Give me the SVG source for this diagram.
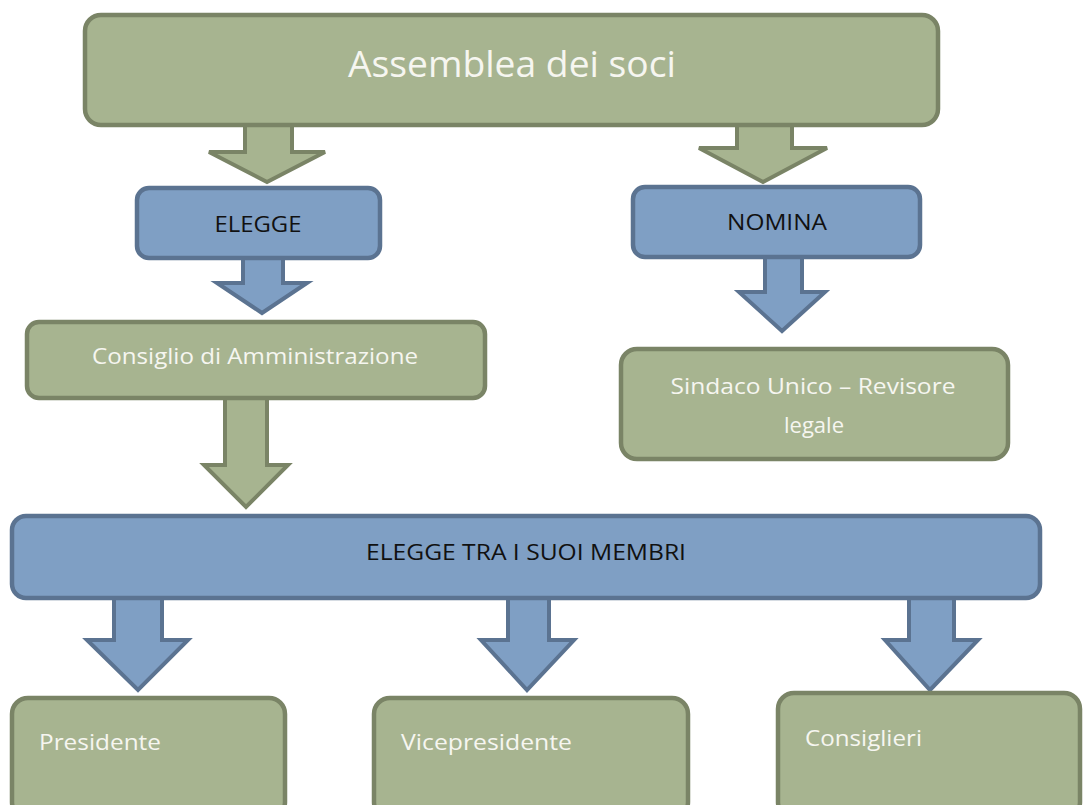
<svg xmlns="http://www.w3.org/2000/svg" width="1084" height="805" viewBox="0 0 1084 805">
<style>
.g{fill:#a7b490;stroke:#7a8466;stroke-width:4.5}
.b{fill:#7f9fc4;stroke:#5b7391;stroke-width:4.5}
.ga{fill:#a7b490;stroke:#7a8466;stroke-width:4;stroke-linejoin:miter}
.ba{fill:#7f9fc4;stroke:#5b7391;stroke-width:4;stroke-linejoin:miter}
text{font-family:"Open Sans","Liberation Sans",sans-serif;font-size:22px}
.w{fill:#f6f6f0}
.k{fill:#111111}
</style>
<rect width="1084" height="805" fill="#ffffff"/>
<g id="connectors">
<polygon class="ga" points="245,122 292,122 292,152 325,152 267,182 209,152 245,152"/>
<polygon class="ba" points="243,258 283,258 283,283 307,283 262,313 217,283 243,283"/>
<polygon class="ga" points="737,120 792,120 792,148 827,148 763,182 699,148 737,148"/>
<polygon class="ba" points="765,257 802,257 802,292 825,292 782,331 739,292 765,292"/>
<polygon class="ga" points="225,398 267,398 267,465 288,465 246,507 204,465 225,465"/>
<polygon class="ba" points="114,597 162,597 162,640 188,640 138,690 87,640 114,640"/>
<polygon class="ba" points="508,597 549,597 549,640 574,640 527,690 481,640 508,640"/>
<polygon class="ba" points="909,597 954,597 954,640 978,640 930,690 885,640 909,640"/>
</g>
<g id="assemblea">
<rect class="g" x="85" y="15" width="853" height="110" rx="16"/>
<text class="w" x="512" y="77" text-anchor="middle" style="font-size:36px" textLength="328" lengthAdjust="spacingAndGlyphs">Assemblea dei soci</text>
</g>
<g id="elegge">
<rect class="b" x="137" y="188" width="243" height="70" rx="12"/>
<text class="k" x="258" y="232" text-anchor="middle" textLength="87" lengthAdjust="spacingAndGlyphs">ELEGGE</text>
</g>
<g id="nomina">
<rect class="b" x="633" y="187" width="287" height="70" rx="12"/>
<text class="k" x="777" y="230" text-anchor="middle" textLength="100" lengthAdjust="spacingAndGlyphs">NOMINA</text>
</g>
<g id="consiglio">
<rect class="g" x="27" y="322" width="458" height="76" rx="12"/>
<text class="w" x="255" y="364" text-anchor="middle" textLength="326" lengthAdjust="spacingAndGlyphs">Consiglio di Amministrazione</text>
</g>
<g id="sindaco">
<rect class="g" x="621" y="349" width="387" height="110" rx="16"/>
<text class="w" x="813" y="394" text-anchor="middle" textLength="285" lengthAdjust="spacingAndGlyphs">Sindaco Unico – Revisore</text>
<text class="w" x="814" y="433" text-anchor="middle">legale</text>
</g>
<g id="elegge-tra">
<rect class="b" x="12" y="516" width="1028" height="82" rx="14"/>
<text class="k" x="526" y="560" text-anchor="middle" style="font-size:21px" textLength="320" lengthAdjust="spacingAndGlyphs">ELEGGE TRA I SUOI MEMBRI</text>
</g>
<g id="presidente">
<rect class="g" x="12" y="698" width="273" height="120" rx="16"/>
<text class="w" x="39" y="750" textLength="122" lengthAdjust="spacingAndGlyphs">Presidente</text>
</g>
<g id="vicepresidente">
<rect class="g" x="374" y="698" width="314" height="120" rx="16"/>
<text class="w" x="401" y="750" textLength="171" lengthAdjust="spacingAndGlyphs">Vicepresidente</text>
</g>
<g id="consiglieri">
<rect class="g" x="778" y="693" width="302" height="125" rx="16"/>
<text class="w" x="805" y="746" textLength="117" lengthAdjust="spacingAndGlyphs">Consiglieri</text>
</g>
</svg>
